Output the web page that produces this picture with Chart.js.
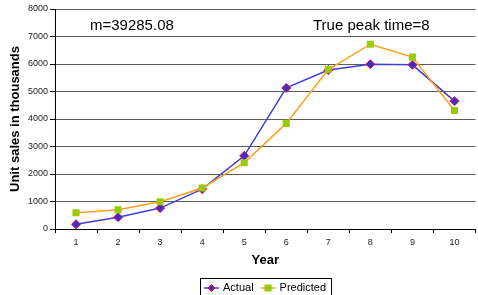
<!DOCTYPE html>
<html>
<head>
<meta charset="utf-8">
<script src="https://cdn.jsdelivr.net/npm/chart.js@4/dist/chart.umd.min.js"></script>
<style>
  html, body { margin: 0; padding: 0; background: #fff; overflow: hidden; }
  canvas { display: block; }
</style>
</head>
<body>
<canvas id="myChart" width="481" height="295"></canvas>
<script>
// values
const years = ['1', '2', '3', '4', '5', '6', '7', '8', '9', '10'];
const actual = [170, 430, 760, 1450, 2660, 5130, 5780, 5990, 5970, 4650];
const predicted = [590, 700, 990, 1490, 2410, 3840, 5800, 6720, 6250, 4310];
const yTicks = [0, 1000, 2000, 3000, 4000, 5000, 6000, 7000, 8000];
const notes = ['m=39285.08', 'True peak time=8'];

const FONT = 'Liberation Sans, Arial, sans-serif';

function marker(ctx, style, x, y, fill, stroke) {
  ctx.save();
  ctx.fillStyle = fill;
  ctx.strokeStyle = stroke;
  ctx.lineWidth = 1;
  ctx.beginPath();
  if (style === 'rectRot') {
    ctx.moveTo(x - 3.5, y); ctx.lineTo(x, y + 3.5); ctx.lineTo(x + 3.5, y); ctx.lineTo(x, y - 3.5);
    ctx.closePath();
    ctx.fill(); ctx.stroke();
  } else {
    ctx.rect(x - 3.5, y - 3.5, 7, 7);
    ctx.fill();
  }
  ctx.restore();
}

// text notes + boxed legend with line+marker symbols
const extras = {
  id: 'extras',
  afterDraw(chart) {
    const ctx = chart.ctx;
    const area = chart.chartArea;
    ctx.save();
    ctx.fillStyle = '#000';
    ctx.font = '15px ' + FONT;
    ctx.textBaseline = 'middle';
    ctx.textAlign = 'left';
    ctx.fillText(notes[0], 90, 26);
    ctx.fillText(notes[1], 313, 26);

    // legend
    ctx.font = '11px ' + FONT;
    const items = chart.data.datasets.map(ds => ({ ds, w: ctx.measureText(ds.label).width }));
    const pad = 4, lineLen = 15, gap = 4, itemGap = 7;
    let total = pad * 2 + 1;
    items.forEach((it, i) => { total += lineLen + gap + it.w + (i ? itemGap : 0); });
    const cx = (area.left + area.right) / 2;
    let x = Math.round(cx - total / 2);
    const top = 278, y = 288;
    ctx.strokeStyle = '#000';
    ctx.lineWidth = 1;
    ctx.strokeRect(x + 0.5, top + 0.5, total, 20);
    x += pad;
    items.forEach((it, i) => {
      if (i) x += itemGap;
      const ds = it.ds;
      ctx.strokeStyle = ds.borderColor;
      ctx.lineWidth = 1.5;
      ctx.beginPath();
      ctx.moveTo(x, y); ctx.lineTo(x + lineLen, y);
      ctx.stroke();
      marker(ctx, ds.pointStyle, x + lineLen / 2, y, ds.pointBackgroundColor, ds.pointBorderColor);
      x += lineLen + gap;
      ctx.fillStyle = '#000';
      ctx.fillText(ds.label, x, y);
      x += it.w;
    });
    ctx.restore();
  }
};

const ctx = document.getElementById('myChart').getContext('2d');
new Chart(ctx, {
  type: 'line',
  data: {
    labels: years,
    datasets: [
      {
        label: 'Actual',
        data: actual,
        borderColor: '#3f3fd6',
        borderWidth: 1.5,
        pointStyle: 'rectRot',
        pointRadius: 4.5,
        pointBackgroundColor: '#3333cc',
        pointBorderColor: '#ff0033',
        pointBorderWidth: 1,
        tension: 0,
        order: 1
      },
      {
        label: 'Predicted',
        data: predicted,
        borderColor: '#ff9f1a',
        borderWidth: 1.5,
        pointStyle: 'rect',
        pointRadius: 5,
        pointBackgroundColor: '#99cc00',
        pointBorderColor: '#99cc00',
        pointBorderWidth: 0,
        tension: 0,
        order: 0
      }
    ]
  },
  options: {
    responsive: false,
    animation: false,
    layout: { padding: { top: 9, left: 0, right: 0, bottom: 0 } },
    plugins: { legend: { display: false }, tooltip: { enabled: false } },
    scales: {
      x: {
        offset: true,
        grid: { offset: true, drawOnChartArea: false, drawTicks: true, tickLength: 4, tickColor: '#000' },
        border: { color: '#000', width: 1 },
        ticks: { color: '#222', font: { family: FONT, size: 9 }, padding: 4, maxRotation: 0 },
        title: { display: true, text: 'Year', color: '#000', font: { family: FONT, size: 13, weight: 'bold' }, padding: { top: 0, bottom: 27 } },
        afterFit(scale) { scale.height = 66; }
      },
      y: {
        min: 0,
        max: 8000,
        afterBuildTicks(scale) { scale.ticks = yTicks.map(v => ({ value: v })); },
        grid: { color: '#5a5a5a', tickLength: 5, tickColor: '#000' },
        border: { color: '#000', width: 1 },
        ticks: { color: '#222', font: { family: FONT, size: 9 }, padding: 2, callback: v => String(v) },
        title: { display: true, text: 'Unit sales in thousands', color: '#000', font: { family: FONT, size: 13, weight: 'bold' }, padding: { top: 8, bottom: 0 } },
        afterFit(scale) { scale.width = 55; }
      }
    }
  },
  plugins: [extras]
});
</script>
</body>
</html>
